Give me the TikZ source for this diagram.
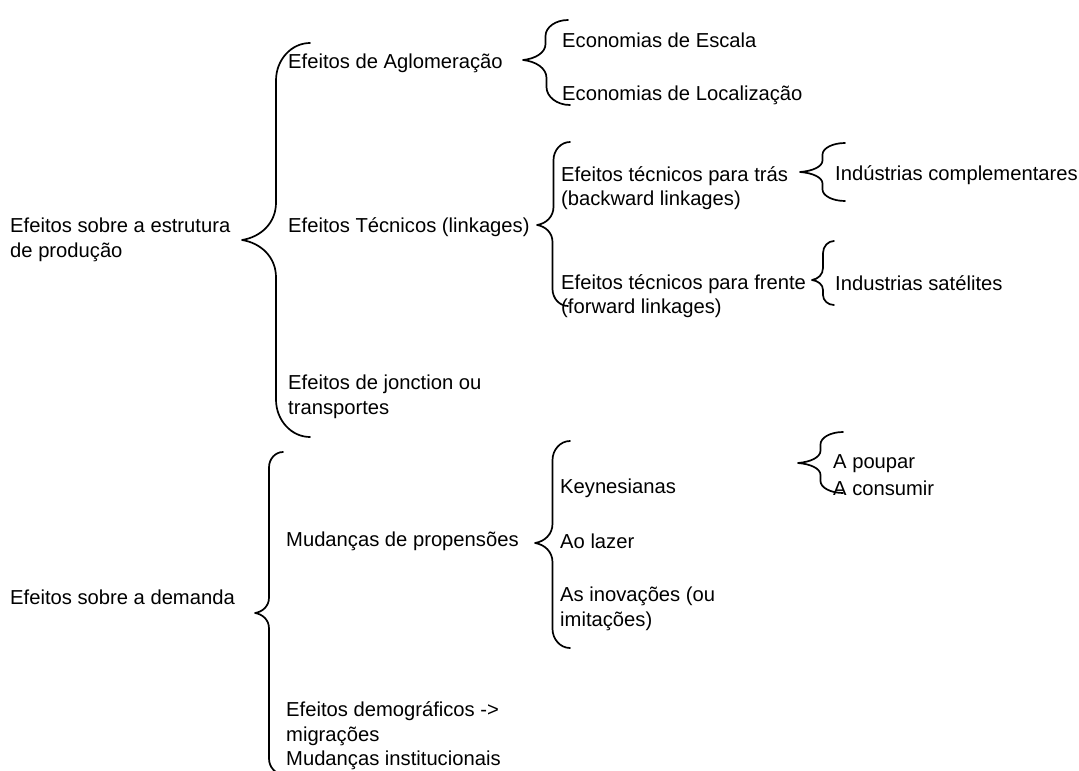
\documentclass[tikz,border=0pt]{standalone}
\usepackage{fontspec}
\setmainfont{Liberation Sans}
\usepackage{tikz}
\usetikzlibrary{calc}

\begin{document}
\begin{tikzpicture}[x=1pt,y=-1pt]
  \tikzstyle{item}=[anchor=west,inner sep=0pt,align=left,
              font=\fontsize{20.2}{24.5}\selectfont]
  \tikzstyle{chave}=[line width=1.7pt,line cap=round,line join=round,
              to path={let \p1=(\tikztostart), \p2=(\tikztotarget),
                \n1={0.5*(\x2-\x1)}, \n2={min(1.1*\n1,0.4*abs(\y2-\y1))},
                \n3={sign(\y2-\y1)} in
                (\p1) .. controls (\x1+0.55*\n1,\y1+0.08*\n3*\n2) and (\x1+\n1,\y1+0.45*\n3*\n2)
                .. (\x1+\n1,\y1+\n3*\n2)
                -- (\x1+\n1,\y2-\n3*\n2)
                .. controls (\x1+\n1,\y2-0.45*\n3*\n2) and (\x1+1.45*\n1,\y2) .. (\p2)}]
    \useasboundingbox (0,0) rectangle (1079,771);
    % first level
    \node [item] (estr) at (10,240) {Efeitos sobre a estrutura\\de produção};
    \node [item] (dem) at (10,597) {Efeitos sobre a demanda};
    % second level
    \node [item] (aglo) at (288,63) {Efeitos de Aglomeração};
    \node [item] (tec) at (288,227) {Efeitos Técnicos (linkages)};
    \node [item] (junc) at (288,397) {Efeitos de jonction ou\\transportes};
    \node [item] (prop) at (286,541) {Mudanças de propensões};
    \node [item] (demog) at (286,736) {Efeitos demográficos ->\\migrações\\Mudanças institucionais};
    % third level
    \node [item] (esc) at (562,40) {Economias de Escala};
    \node [item] (loc) at (562,95) {Economias de Localização};
    \node [item] (tras) at (561,188) {Efeitos técnicos para trás\\(backward linkages)};
    \node [item] (frente) at (561,296) {Efeitos técnicos para frente\\(forward linkages)};
    \node [item] (keyn) at (560,488) {Keynesianas};
    \node [item] (lazer) at (560,541) {Ao lazer};
    \node [item] (inov) at (560,609) {As inovações (ou\\imitações)};
    % fourth level
    \node [item] (compl) at (835,175) {Indústrias complementares};
    \node [item] (satel) at (835,283) {Industrias satélites};
    \node [item] (poup) at (833,464) {A poupar};
    \node [item] (cons) at (833,488) {A consumir};
    % braces: tip, top end, bottom end
    \coordinate (t1) at (242,240);  \coordinate (a1) at (310,43);  \coordinate (b1) at (310,437);
    \coordinate (t2) at (255,613);  \coordinate (a2) at (283,452); \coordinate (b2) at (283,774);
    \coordinate (t3) at (523,60);   \coordinate (a3) at (568,20);  \coordinate (b3) at (570,105);
    \coordinate (t4) at (537,225);  \coordinate (a4) at (570,142); \coordinate (b4) at (568,306);
    \coordinate (t5) at (800,172);  \coordinate (a5) at (845,143); \coordinate (b5) at (845,201);
    \coordinate (t6) at (812,280);  \coordinate (a6) at (834,241); \coordinate (b6) at (834,305);
    \coordinate (t7) at (535,543);  \coordinate (a7) at (570,441); \coordinate (b7) at (570,648);
    \coordinate (t8) at (798,463);  \coordinate (a8) at (843,432); \coordinate (b8) at (843,493);
    \draw [chave] (t1) to (a1) (t1) to (b1);
    \draw [chave] (t2) to (a2) (t2) to (b2);
    \draw [chave] (t3) to (a3) (t3) to (b3);
    \draw [chave] (t4) to (a4) (t4) to (b4);
    \draw [chave] (t5) to (a5) (t5) to (b5);
    \draw [chave] (t6) to (a6) (t6) to (b6);
    \draw [chave] (t7) to (a7) (t7) to (b7);
    \draw [chave] (t8) to (a8) (t8) to (b8);
\end{tikzpicture}
\end{document}
